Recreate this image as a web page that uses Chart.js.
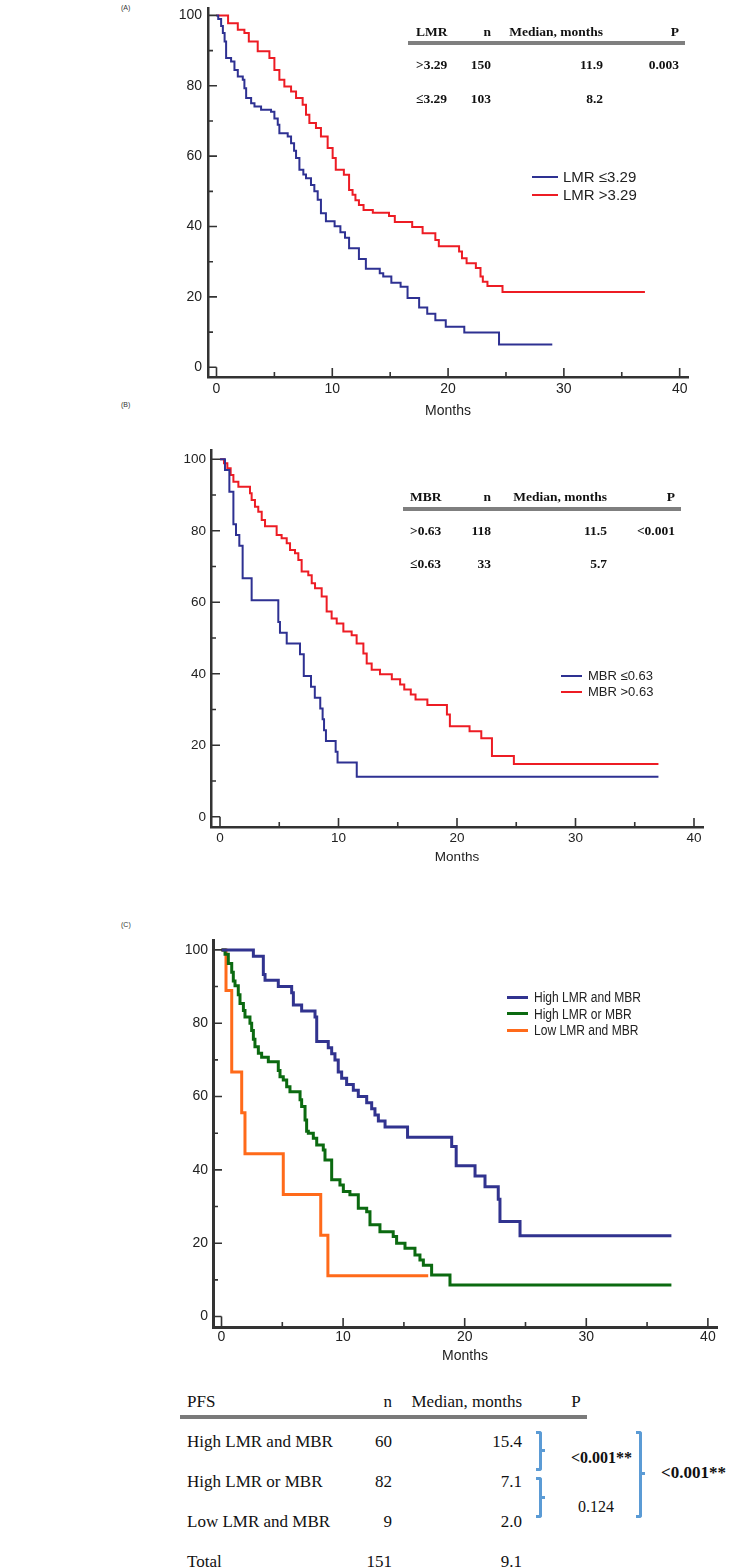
<!DOCTYPE html>
<html lang="en">
<head>
<meta charset="UTF-8" />
<title>PFS by LMR, MBR and combined score</title>
<style>
  * { box-sizing: border-box; }
  body { margin: 0; background: #fff; color: #222; font-family: 'Liberation Sans', Arial, sans-serif; }
  #page { position: relative; width: 730px; height: 1567px; overflow: hidden; background: #fff; }
  canvas { position: absolute; }
  .tag { position: absolute; left: 121px; font-size: 7px; color: #333; }
  .t { position: absolute; height: 20px; line-height: 20px; white-space: nowrap; }
  .r { text-align: right; }
  .c { text-align: center; }
  .hd { font-family: 'Liberation Serif', 'Times New Roman', serif; font-weight: bold; font-size: 13.5px; color: #111; }
  .tb { font-family: 'Liberation Serif', 'Times New Roman', serif; font-size: 17px; color: #111; height: 24px; line-height: 24px; }
  .rule { position: absolute; background: #7f7f7f; height: 4px; }
  .key { position: absolute; }
  .lg { position: absolute; height: 20px; line-height: 20px; white-space: nowrap; color: #222; }
  .brace { position: absolute; border: 3px solid #5b9bd5; border-left: none; width: 6px; border-radius: 0 3px 3px 0; }
  .nub { position: absolute; background: #5b9bd5; width: 3px; height: 3px; }
</style>
</head>
<body>
<div id="page">

  <!-- panel A -->
  <div class="tag" style="top:4px">(A)</div>
  <canvas id="chartA" width="560" height="430" style="left:150px;top:0px"></canvas>
  <div class="t hd" style="left:416px;top:22px">LMR</div>
  <div class="t hd r" style="left:391px;top:22px;width:100px">n</div>
  <div class="t hd r" style="left:453px;top:22px;width:150px">Median, months</div>
  <div class="t hd r" style="left:579px;top:22px;width:100px">P</div>
  <div class="rule" style="left:408px;top:41px;width:277px"></div>
  <div class="t hd" style="left:416px;top:55px">&gt;3.29</div>
  <div class="t hd r" style="left:391px;top:55px;width:100px">150</div>
  <div class="t hd r" style="left:453px;top:55px;width:150px">11.9</div>
  <div class="t hd r" style="left:579px;top:55px;width:100px">0.003</div>
  <div class="t hd" style="left:416px;top:89px">≤3.29</div>
  <div class="t hd r" style="left:391px;top:89px;width:100px">103</div>
  <div class="t hd r" style="left:453px;top:89px;width:150px">8.2</div>

  <div class="key" style="left:532px;top:175.5px;width:26px;height:2px;background:#2e3192"></div>
  <div class="lg" style="left:563px;top:166.5px;font-size:15px">LMR ≤3.29</div>
  <div class="key" style="left:532px;top:194px;width:26px;height:2px;background:#ed1c24"></div>
  <div class="lg" style="left:563px;top:185px;font-size:15px">LMR &gt;3.29</div>

  <!-- panel B -->
  <div class="tag" style="top:401px">(B)</div>
  <canvas id="chartB" width="570" height="430" style="left:150px;top:440px"></canvas>
  <div class="t hd" style="left:410px;top:487px">MBR</div>
  <div class="t hd r" style="left:391px;top:487px;width:100px">n</div>
  <div class="t hd r" style="left:457px;top:487px;width:150px">Median, months</div>
  <div class="t hd r" style="left:575px;top:487px;width:100px">P</div>
  <div class="rule" style="left:403px;top:507px;width:278px"></div>
  <div class="t hd" style="left:410px;top:521px">&gt;0.63</div>
  <div class="t hd r" style="left:391px;top:521px;width:100px">118</div>
  <div class="t hd r" style="left:457px;top:521px;width:150px">11.5</div>
  <div class="t hd r" style="left:575px;top:521px;width:100px">&lt;0.001</div>
  <div class="t hd" style="left:410px;top:554px">≤0.63</div>
  <div class="t hd r" style="left:391px;top:554px;width:100px">33</div>
  <div class="t hd r" style="left:457px;top:554px;width:150px">5.7</div>

  <div class="key" style="left:561px;top:675px;width:21px;height:2px;background:#2e3192"></div>
  <div class="lg" style="left:588px;top:666px;font-size:13px">MBR ≤0.63</div>
  <div class="key" style="left:561px;top:691px;width:21px;height:2px;background:#ed1c24"></div>
  <div class="lg" style="left:588px;top:682px;font-size:13px">MBR &gt;0.63</div>

  <!-- panel C -->
  <div class="tag" style="top:921px">(C)</div>
  <canvas id="chartC" width="580" height="440" style="left:150px;top:930px"></canvas>

  <div class="key" style="left:507px;top:995.5px;width:21px;height:3.5px;background:#31338f"></div>
  <div class="lg" style="left:534px;top:987px;font-size:14px;transform:scaleX(0.86);transform-origin:left center">High LMR and MBR</div>
  <div class="key" style="left:507px;top:1011.5px;width:21px;height:3.5px;background:#0b6a10"></div>
  <div class="lg" style="left:534px;top:1003.5px;font-size:14px;transform:scaleX(0.86);transform-origin:left center">High LMR or MBR</div>
  <div class="key" style="left:507px;top:1028.5px;width:21px;height:3.5px;background:#ff6a1a"></div>
  <div class="lg" style="left:534px;top:1020px;font-size:14px;transform:scaleX(0.86);transform-origin:left center">Low LMR and MBR</div>

  <!-- summary table -->
  <div class="t tb" style="left:187px;top:1390px">PFS</div>
  <div class="t tb r" style="left:292px;top:1390px;width:100px">n</div>
  <div class="t tb r" style="left:372px;top:1390px;width:150px">Median, months</div>
  <div class="t tb c" style="left:546px;top:1390px;width:60px">P</div>
  <div class="rule" style="left:180px;top:1415px;width:407px;background:#7a7a7a"></div>

  <div class="t tb" style="left:187px;top:1430px">High LMR and MBR</div>
  <div class="t tb r" style="left:292px;top:1430px;width:100px">60</div>
  <div class="t tb r" style="left:372px;top:1430px;width:150px">15.4</div>
  <div class="t tb" style="left:187px;top:1470px">High LMR or MBR</div>
  <div class="t tb r" style="left:292px;top:1470px;width:100px">82</div>
  <div class="t tb r" style="left:372px;top:1470px;width:150px">7.1</div>
  <div class="t tb" style="left:187px;top:1510px">Low LMR and MBR</div>
  <div class="t tb r" style="left:292px;top:1510px;width:100px">9</div>
  <div class="t tb r" style="left:372px;top:1510px;width:150px">2.0</div>
  <div class="t tb" style="left:187px;top:1550px">Total</div>
  <div class="t tb r" style="left:292px;top:1550px;width:100px">151</div>
  <div class="t tb r" style="left:372px;top:1550px;width:150px">9.1</div>

  <div class="brace" style="left:536px;top:1431px;height:40px"></div>
  <div class="nub" style="left:542px;top:1449px"></div>
  <div class="brace" style="left:536px;top:1477px;height:41px"></div>
  <div class="nub" style="left:542px;top:1496px"></div>
  <div class="brace" style="left:636px;top:1431px;height:87px"></div>
  <div class="nub" style="left:642px;top:1472px"></div>

  <div class="t tb" style="left:571px;top:1446px;font-size:16px;font-weight:bold">&lt;0.001**</div>
  <div class="t tb" style="left:578px;top:1495px;font-size:16px">0.124</div>
  <div class="t tb" style="left:661px;top:1461px;font-size:17px;font-weight:bold">&lt;0.001**</div>
</div>

<script src="https://cdn.jsdelivr.net/npm/chart.js"></script>
<script>
  // axis ticks (minor ticks unlabeled)
  const xTickValues = [0, 5, 10, 15, 20, 25, 30, 35, 40];
  const yTickValues = [0, 10, 20, 30, 40, 50, 60, 70, 80, 90, 100];

  // (A) LMR
  const lmrLowMonths = [0, 0.15, 0.4, 0.55, 0.7, 0.83, 1.26, 1.55, 1.84, 2.27, 2.41, 2.56, 2.99, 3.28, 3.85, 4.71, 5.0, 5.29, 5.43, 6.15, 6.44, 6.7, 6.87, 7.16, 7.5, 7.73, 8.16, 8.45, 8.74, 9.02, 9.45, 10.2, 10.7, 11.1, 11.45, 12.3, 12.9, 14.1, 14.4, 15.1, 15.9, 16.5, 17.5, 18.2, 18.9, 19.8, 21.4, 24.4, 29.0];
  const lmrLowPfs    = [100, 99.0, 97.0, 95.0, 92.6, 87.9, 86.9, 84.5, 82.6, 81.7, 79.3, 76.5, 75.0, 74.1, 73.2, 72.6, 70.7, 68.9, 66.5, 65.6, 63.7, 61.5, 59.5, 56.1, 54.8, 53.7, 51.8, 50.0, 47.6, 43.8, 41.5, 40.1, 38.4, 36.8, 33.8, 30.8, 28.0, 26.7, 25.8, 24.0, 22.9, 19.7, 17.0, 15.2, 13.4, 11.5, 9.9, 6.5, 6.5];
  const lmrHighMonths = [0, 1.0, 1.84, 2.41, 2.79, 3.56, 4.57, 5.0, 5.43, 5.86, 6.44, 6.87, 7.44, 7.73, 8.02, 8.59, 9.02, 9.6, 10.03, 10.3, 11.0, 11.45, 11.75, 12.0, 12.3, 12.7, 13.5, 14.9, 15.4, 16.9, 17.8, 18.9, 19.2, 20.95, 21.2, 21.6, 22.4, 22.8, 23.0, 23.4, 24.7, 37.0];
  const lmrHighPfs    = [100, 97.8, 95.9, 95.0, 92.6, 89.8, 87.9, 84.5, 81.7, 79.8, 78.4, 76.5, 74.6, 71.8, 69.4, 68.0, 65.6, 62.3, 59.5, 56.1, 54.7, 50.4, 49.0, 47.5, 46.1, 44.7, 43.9, 43.0, 41.3, 39.9, 38.1, 36.2, 34.4, 32.9, 31.0, 29.6, 28.2, 25.8, 24.3, 23.1, 21.4, 21.4];

  // (B) MBR
  const mbrLowMonths = [0, 0.42, 0.79, 1.13, 1.35, 1.63, 1.91, 2.67, 4.92, 5.06, 5.63, 6.75, 7.07, 7.68, 8.0, 8.46, 8.66, 8.78, 8.94, 9.76, 9.92, 11.54, 37.0];
  const mbrLowPfs    = [100, 97.0, 90.9, 81.8, 78.8, 75.8, 66.7, 60.6, 54.5, 51.5, 48.5, 45.5, 39.4, 36.4, 33.3, 30.3, 27.3, 24.2, 21.2, 18.2, 15.2, 11.2, 11.2];
  const mbrHighMonths = [0, 0.34, 0.62, 0.9, 1.13, 1.55, 2.53, 2.67, 2.95, 3.23, 3.52, 3.8, 4.78, 5.2, 5.63, 5.91, 6.33, 6.61, 6.89, 7.45, 7.74, 8.02, 8.58, 9.0, 9.42, 9.85, 10.41, 11.11, 11.53, 12.1, 12.38, 12.8, 13.5, 14.5, 15.2, 15.55, 16.1, 16.5, 17.5, 19.15, 19.4, 21.06, 22.05, 22.95, 24.8, 37.0];
  const mbrHighPfs    = [100, 98.9, 97.5, 95.6, 93.7, 92.3, 90.5, 88.6, 86.7, 85.3, 83.0, 81.3, 78.8, 77.9, 76.5, 74.6, 73.7, 71.8, 68.6, 67.6, 65.3, 63.9, 61.6, 57.4, 55.5, 54.1, 51.8, 50.8, 48.5, 45.7, 42.9, 41.1, 39.9, 38.5, 37.0, 35.6, 34.2, 32.8, 31.3, 28.6, 25.3, 23.9, 22.0, 17.0, 14.8, 14.8];

  // (C) combined
  const bothHighMonths = [0, 2.62, 3.44, 3.58, 4.67, 5.77, 5.91, 6.59, 7.69, 7.83, 8.78, 9.06, 9.33, 9.6, 9.88, 10.29, 10.84, 11.25, 11.94, 12.35, 12.62, 12.9, 13.45, 15.3, 18.93, 19.3, 20.85, 21.67, 22.76, 22.9, 24.55, 37.0];
  const bothHighPfs    = [100, 98.3, 93.3, 91.7, 90.0, 88.3, 85.0, 83.3, 81.7, 75.0, 73.3, 71.7, 70.0, 66.7, 65.0, 63.3, 61.7, 60.0, 58.3, 56.7, 55.0, 53.3, 51.7, 48.9, 46.4, 41.1, 38.3, 35.4, 32.0, 25.9, 22.0, 22.0];
  const eitherHighMonths = [0, 0.29, 0.56, 0.84, 0.97, 1.11, 1.38, 1.52, 1.8, 1.93, 2.34, 2.48, 2.62, 2.75, 3.03, 3.3, 3.85, 4.67, 4.81, 5.08, 5.36, 5.63, 6.46, 6.59, 6.87, 7.0, 7.14, 7.55, 7.83, 8.37, 8.51, 9.06, 9.74, 10.02, 10.56, 11.25, 11.94, 12.21, 13.03, 14.12, 14.4, 15.09, 15.91, 16.32, 16.6, 17.28, 18.79, 37.0];
  const eitherHighPfs    = [100, 98.8, 96.3, 93.9, 91.5, 90.2, 87.8, 85.4, 83.5, 81.7, 80.0, 78.0, 75.6, 73.6, 71.8, 70.7, 69.5, 67.1, 65.4, 64.5, 62.7, 61.3, 59.1, 57.3, 53.6, 50.5, 50.0, 48.6, 46.8, 45.4, 42.7, 37.3, 35.9, 34.1, 33.2, 29.5, 28.6, 25.0, 23.1, 21.8, 20.0, 18.6, 16.8, 15.4, 14.0, 11.3, 8.6, 8.6];
  const bothLowMonths = [0, 0.37, 0.84, 1.66, 1.93, 5.08, 8.16, 8.75, 17.0];
  const bothLowPfs    = [100, 88.9, 66.7, 55.6, 44.4, 33.3, 22.2, 11.1, 11.1];

  Chart.defaults.font.family = "'Liberation Sans', Arial, sans-serif";
  Chart.defaults.color = '#222';

  // MedCalc style: ticks point into the plot, 0-ticks meet at the origin
  const inwardTicks = {
    id: 'inwardTicks',
    afterDraw(chart, args, opts) {
      const { ctx, chartArea } = chart;
      const x = chart.scales.x, y = chart.scales.y;
      const left = chartArea.left, bottom = chartArea.bottom;
      ctx.save();
      ctx.strokeStyle = opts.color;
      ctx.lineWidth = opts.width;
      ctx.beginPath();
      xTickValues.forEach(v => {
        const px = x.getPixelForValue(v);
        const len = v === 0 ? bottom - y.getPixelForValue(0) : (v % 10 === 0 ? opts.major : opts.minor);
        ctx.moveTo(px, bottom);
        ctx.lineTo(px, bottom - len);
      });
      yTickValues.forEach(v => {
        const py = y.getPixelForValue(v);
        const len = v === 0 ? x.getPixelForValue(0) - left : (v % 20 === 0 ? opts.major : opts.minor);
        ctx.moveTo(left, py);
        ctx.lineTo(left + len, py);
      });
      ctx.stroke();
      ctx.restore();
    }
  };

  function noPadding(s) {
    s.paddingTop = 0; s.paddingBottom = 0; s.paddingLeft = 0; s.paddingRight = 0;
  }

  function drawKM(cfg) {
    return new Chart(document.getElementById(cfg.id), {
      type: 'line',
      data: {
        datasets: cfg.series.map(s => ({
          label: s.label,
          data: s.months.map((m, i) => ({ x: m, y: s.pfs[i] })),
          borderColor: s.color,
          borderWidth: cfg.lineWidth,
          stepped: 'before',
          pointRadius: 0,
          fill: false,
          tension: 0
        }))
      },
      options: {
        responsive: false,
        animation: false,
        events: [],
        layout: { padding: { top: cfg.padTop, right: cfg.padRight, left: 0, bottom: 0 } },
        plugins: {
          legend: { display: false },
          tooltip: { enabled: false },
          inwardTicks: { color: '#333', width: 1.6, major: 9, minor: 5 }
        },
        scales: {
          x: {
            type: 'linear',
            min: cfg.xMin, max: cfg.xMax,
            afterBuildTicks: s => { s.ticks = xTickValues.map(v => ({ value: v })); },
            afterFit: s => { s.height = cfg.xAxisHeight; noPadding(s); },
            grid: { display: false, drawTicks: false },
            border: { display: true, color: '#333', width: cfg.axisWidth },
            ticks: {
              autoSkip: false, maxRotation: 0, padding: cfg.xTickPad,
              font: { size: cfg.fontSize },
              callback: v => (v % 10 === 0 ? String(v) : '')
            },
            title: { display: true, text: 'Months', font: { size: cfg.fontSize }, padding: { top: 0, bottom: cfg.titlePad } }
          },
          y: {
            type: 'linear',
            min: cfg.yMin, max: cfg.yMax,
            afterBuildTicks: s => { s.ticks = yTickValues.map(v => ({ value: v })); },
            afterFit: s => { s.width = cfg.yAxisWidth; noPadding(s); },
            grid: { display: false, drawTicks: false },
            border: { display: true, color: '#333', width: cfg.axisWidth },
            ticks: {
              autoSkip: false, padding: cfg.yTickPad,
              font: { size: cfg.fontSize },
              callback: v => (v % 20 === 0 ? String(v) : '')
            }
          }
        }
      },
      plugins: [inwardTicks]
    });
  }

  drawKM({
    id: 'chartA', xMin: -0.734, xMax: 40.72, yMin: -2.76, yMax: 102.1,
    padTop: 8, padRight: 22, yAxisWidth: 58, xAxisHeight: 53,
    xTickPad: 4, yTickPad: 6, titlePad: 10, fontSize: 14, lineWidth: 2, axisWidth: 2.5,
    series: [
      { label: 'LMR ≤3.29', months: lmrLowMonths, pfs: lmrLowPfs, color: '#2e3192' },
      { label: 'LMR >3.29', months: lmrHighMonths, pfs: lmrHighPfs, color: '#ed1c24' }
    ]
  });

  drawKM({
    id: 'chartB', xMin: -0.76, xMax: 40.76, yMin: -2.85, yMax: 102.6,
    padTop: 10, padRight: 17, yAxisWidth: 61, xAxisHeight: 43,
    xTickPad: 3, yTickPad: 5, titlePad: 5, fontSize: 13.5, lineWidth: 2, axisWidth: 2.5,
    series: [
      { label: 'MBR ≤0.63', months: mbrLowMonths, pfs: mbrLowPfs, color: '#2e3192' },
      { label: 'MBR >0.63', months: mbrHighMonths, pfs: mbrHighPfs, color: '#ed1c24' }
    ]
  });

  drawKM({
    id: 'chartC', xMin: -0.70, xMax: 40.75, yMin: -2.86, yMax: 102.7,
    padTop: 10, padRight: 13, yAxisWidth: 63, xAxisHeight: 43,
    xTickPad: 2, yTickPad: 5, titlePad: 5, fontSize: 14, lineWidth: 3, axisWidth: 3,
    series: [
      { label: 'High LMR and MBR', months: bothHighMonths, pfs: bothHighPfs, color: '#31338f' },
      { label: 'High LMR or MBR', months: eitherHighMonths, pfs: eitherHighPfs, color: '#0b6a10' },
      { label: 'Low LMR and MBR', months: bothLowMonths, pfs: bothLowPfs, color: '#ff6a1a' }
    ]
  });
</script>
</body>
</html>
